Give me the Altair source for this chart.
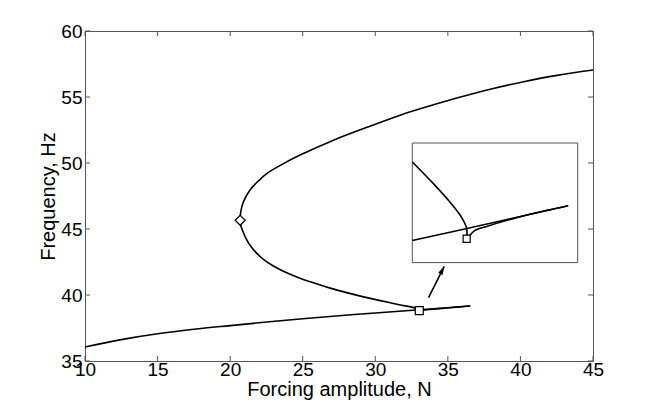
import altair as alt
import pandas as pd

# ---------------- data ----------------
# stable lower branch
low_x = [10.0, 12.5, 15.0, 17.5, 20.0, 22.5, 25.0, 27.5, 30.0, 33.03, 36.54]
low_y = [36.06, 36.62, 37.06, 37.40, 37.68, 37.95, 38.20, 38.43, 38.64, 38.88, 39.17]
# short unstable branch from the fold back to the square
uns_x = [36.54, 35.80, 34.76, 33.72, 33.20, 33.03]
uns_y = [39.17, 39.10, 39.00, 38.90, 38.84, 38.82]
# upper branch: square -> turning point (diamond) -> 45 N
up_x = [33.03, 32.87, 31.49, 29.19, 26.89, 25.74, 24.59, 23.67, 22.98, 22.29,
        21.79, 21.37, 21.10, 20.87, 20.73, 20.69,
        20.73, 20.91, 21.37, 21.95, 22.52, 23.67, 24.82, 27.12, 29.42, 31.72,
        33.32, 35.62, 37.92, 40.22, 42.52, 45.0]
up_y = [38.86, 38.97, 39.30, 39.86, 40.52, 40.92, 41.37, 41.80, 42.20, 42.70,
        43.21, 43.77, 44.27, 44.85, 45.28, 45.66,
        46.29, 47.05, 47.95, 48.65, 49.20, 49.95, 50.60, 51.73, 52.70, 53.62,
        54.18, 54.92, 55.59, 56.16, 56.64, 57.04]
# markers
diam_x = [20.69]
diam_y = [45.66]
sq_x = [33.03]
sq_y = [38.82]
# arrow (tail -> tip)
arrow_x = [33.67, 34.75]
arrow_y = [39.80, 42.17]
arrow_angle = 26.6

# inset (zoom around the square)
ins_dom_x = [31.15, 36.87]
ins_dom_y = [38.47, 39.95]
ins_low_x = [31.15, 33.89, 36.54]
ins_low_y = [38.744, 38.960, 39.174]
ins_up_x = [31.15, 31.88, 32.45, 32.86, 33.03, 33.03]
ins_up_y = [39.715, 39.447, 39.219, 39.026, 38.889, 38.765]
ins_un_x = [33.03, 33.17, 33.32, 33.72, 34.76, 35.80, 36.54]
ins_un_y = [38.765, 38.819, 38.868, 38.918, 39.026, 39.116, 39.174]
ins_sq_x = [33.03]
ins_sq_y = [38.765]

# axis ticks
x_ticks = [10, 15, 20, 25, 30, 35, 40, 45]
y_ticks = [35, 40, 45, 50, 55, 60]

# ---------------- layout ----------------
W, H = 508, 330
TICK = 5
FONT = "Liberation Sans"
AX = "#555555"
LFS = 19   # tick label font size
TFS = 20   # axis title font size


def seg_df(xs, ys, name):
    return pd.DataFrame({"x": xs, "y": ys, "seg": name, "i": range(len(xs))})


main_df = pd.concat([
    seg_df(low_x, low_y, "low"),
    seg_df(uns_x, uns_y, "uns"),
    seg_df(up_x, up_y, "up"),
], ignore_index=True)

xs = alt.Scale(domain=[10, 45], nice=False, zero=False)
ys = alt.Scale(domain=[35, 60], nice=False, zero=False)

x_axis = alt.Axis(values=x_ticks, ticks=False, domain=False, grid=False,
                  labelFlush=False, labelOverlap=False,
                  labelPadding=-1, labelFontSize=LFS, labelFont=FONT, labelColor="black",
                  title="Forcing amplitude, N", titleFontSize=TFS, titleFont=FONT,
                  titleFontWeight="normal", titleColor="black",
                  titleBaseline="alphabetic", titleY=34)
y_axis = alt.Axis(values=y_ticks, ticks=False, domain=False, grid=False,
                  labelFlush=False, labelOverlap=False,
                  labelPadding=3, labelFontSize=LFS, labelFont=FONT, labelColor="black",
                  title="Frequency, Hz", titleFontSize=TFS, titleFont=FONT,
                  titleFontWeight="normal", titleColor="black",
                  titleBaseline="middle", titleX=-37, titleY=H / 2)

lines = alt.Chart(main_df).mark_line(color="black", strokeWidth=1.6,
                                     interpolate="catmull-rom").encode(
    x=alt.X("x:Q", scale=xs, axis=x_axis),
    y=alt.Y("y:Q", scale=ys, axis=y_axis),
    detail="seg:N",
    order="i:Q",
)

diamond = alt.Chart(pd.DataFrame({"x": diam_x, "y": diam_y})).mark_point(
    shape="diamond", size=100, filled=True, fill="white", stroke="black",
    strokeWidth=1.2, opacity=1).encode(
    x=alt.X("x:Q", scale=xs, axis=x_axis), y=alt.Y("y:Q", scale=ys, axis=y_axis))

square = alt.Chart(pd.DataFrame({"x": sq_x, "y": sq_y})).mark_point(
    shape="square", size=64, filled=True, fill="white", stroke="black",
    strokeWidth=1.2, opacity=1).encode(
    x=alt.X("x:Q", scale=xs, axis=x_axis), y=alt.Y("y:Q", scale=ys, axis=y_axis))

arrow_df = pd.DataFrame({"x": arrow_x, "y": arrow_y, "i": [0, 1]})
arrow_line = alt.Chart(arrow_df).mark_line(color="black", strokeWidth=1.6).encode(
    x=alt.X("x:Q", scale=xs, axis=x_axis), y=alt.Y("y:Q", scale=ys, axis=y_axis), order="i:Q")
arrow_head = alt.Chart(pd.DataFrame({"x": arrow_x[1:], "y": arrow_y[1:]})).mark_point(
    shape="M0,0L0.5,1.7L-0.5,1.7Z", size=100, filled=True, color="black",
    angle=arrow_angle, opacity=1).encode(
    x=alt.X("x:Q", scale=xs, axis=x_axis), y=alt.Y("y:Q", scale=ys, axis=y_axis))

xt = pd.DataFrame({"x": x_ticks})
yt = pd.DataFrame({"y": y_ticks})
tick_bottom = alt.Chart(xt).mark_rule(color=AX, strokeWidth=1).encode(
    x=alt.X("x:Q", scale=xs, axis=x_axis), y=alt.value(H), y2=alt.value(H - TICK))
tick_top = alt.Chart(xt).mark_rule(color=AX, strokeWidth=1).encode(
    x=alt.X("x:Q", scale=xs, axis=x_axis), y=alt.value(0), y2=alt.value(TICK))
tick_left = alt.Chart(yt).mark_rule(color=AX, strokeWidth=1).encode(
    y=alt.Y("y:Q", scale=ys, axis=y_axis), x=alt.value(0), x2=alt.value(TICK))
tick_right = alt.Chart(yt).mark_rule(color=AX, strokeWidth=1).encode(
    y=alt.Y("y:Q", scale=ys, axis=y_axis), x=alt.value(W), x2=alt.value(W - TICK))

main = alt.layer(lines, tick_bottom, tick_top, tick_left, tick_right,
                 arrow_line, arrow_head, diamond, square)

# ---------------- inset ----------------
ixs = alt.Scale(domain=ins_dom_x, range=[327.3, 492.7], nice=False, zero=False)
iys = alt.Scale(domain=ins_dom_y, range=[231.6, 112.0], nice=False, zero=False)

ins_df = pd.concat([
    seg_df(ins_low_x, ins_low_y, "low"),
    seg_df(ins_up_x, ins_up_y, "up"),
    seg_df(ins_un_x, ins_un_y, "uns"),
], ignore_index=True)

frame_df = pd.DataFrame({"x": [ins_dom_x[0]], "x2": [ins_dom_x[1]],
                         "y": [ins_dom_y[0]], "y2": [ins_dom_y[1]]})
ins_frame = alt.Chart(frame_df).mark_rect(fill="white", stroke=AX, strokeWidth=1).encode(
    x=alt.X("x:Q", scale=ixs, axis=None), x2="x2:Q",
    y=alt.Y("y:Q", scale=iys, axis=None), y2="y2:Q")
ins_lines = alt.Chart(ins_df).mark_line(color="black", strokeWidth=1.6,
                                        interpolate="catmull-rom").encode(
    x=alt.X("x:Q", scale=ixs, axis=None), y=alt.Y("y:Q", scale=iys, axis=None),
    detail="seg:N", order="i:Q")
ins_square = alt.Chart(pd.DataFrame({"x": ins_sq_x, "y": ins_sq_y})).mark_point(
    shape="square", size=50, filled=True, fill="white", stroke="black",
    strokeWidth=1.2, opacity=1).encode(
    x=alt.X("x:Q", scale=ixs, axis=None), y=alt.Y("y:Q", scale=iys, axis=None))

inset = alt.layer(ins_frame, ins_lines, ins_square)

chart = alt.layer(main, inset).resolve_scale(x="independent", y="independent").properties(
    width=W, height=H,
    autosize=alt.AutoSizeParams(type="none"),
    padding={"left": 77, "top": 23, "right": 40, "bottom": 45},
    background="white",
).configure_view(stroke=AX, strokeWidth=1)

chart.save("out.html", embed_options={"renderer": "svg", "actions": False})
